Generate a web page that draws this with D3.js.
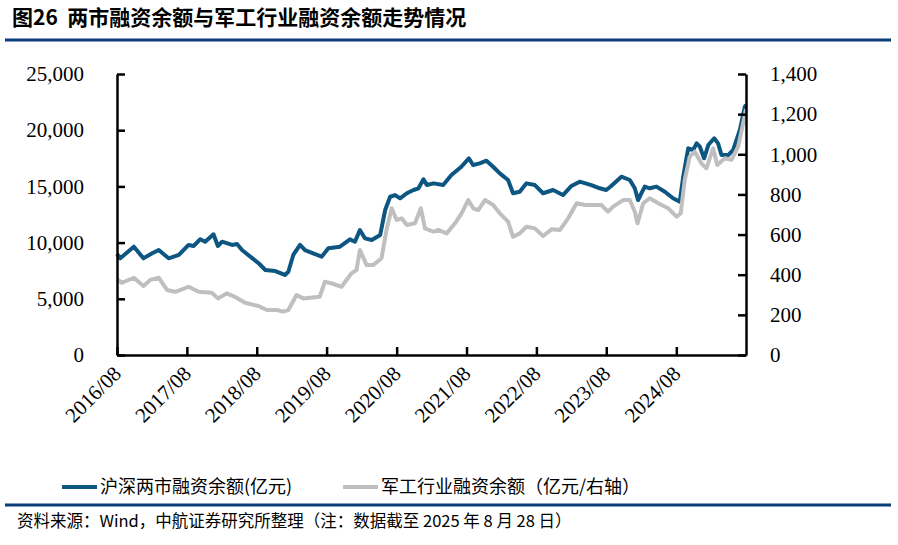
<!DOCTYPE html>
<html>
<head>
<meta charset="utf-8">
<title>两市融资余额与军工行业融资余额走势情况</title>
<style>
  body { margin: 0; background: #fff; }
  svg text { font-family: "Liberation Serif", serif; fill: #000; }
  svg .cjk { font-family: "Noto Sans CJK SC", sans-serif; white-space: pre; }
</style>
</head>
<body>
<svg id="chart" width="898" height="545"></svg>
<script src="https://cdn.jsdelivr.net/npm/d3@7/dist/d3.min.js"></script>
<script>
// 沪深两市融资余额 (亿元, left axis)
const marketDates = ["2016-08-29","2016-09-15","2016-11-25","2017-01-14","2017-03-01","2017-04-04","2017-05-26","2017-07-18",
  "2017-09-07","2017-10-04","2017-11-07","2017-12-03","2018-01-15","2018-02-07","2018-03-01","2018-04-22","2018-05-18",
  "2018-06-13","2018-09-08","2018-10-13","2018-12-04","2019-01-23","2019-02-10","2019-03-08","2019-04-12","2019-05-08",
  "2019-06-20","2019-08-03","2019-09-07","2019-11-07","2019-12-29","2020-01-24","2020-02-19","2020-03-16","2020-04-21",
  "2020-06-04","2020-06-30","2020-07-26","2020-08-21","2020-09-16","2020-10-21","2020-11-25","2020-12-21","2021-01-16",
  "2021-02-03","2021-03-10","2021-04-29","2021-06-11","2021-08-02","2021-09-10","2021-10-02","2021-11-06","2021-12-11",
  "2022-01-15","2022-02-19","2022-04-03","2022-04-29","2022-06-03","2022-07-08","2022-08-21","2022-10-03","2022-11-24",
  "2023-01-15","2023-02-28","2023-04-12","2023-06-12","2023-07-26","2023-08-29","2023-09-24","2023-11-16","2023-12-30",
  "2024-01-25","2024-02-11","2024-03-17","2024-04-12","2024-05-17","2024-06-30","2024-08-12","2024-09-16","2024-10-04",
  "2024-10-30","2024-11-25","2024-12-13","2024-12-30","2025-01-21","2025-02-12","2025-03-15","2025-04-04","2025-04-22",
  "2025-05-27","2025-06-22","2025-07-27","2025-08-22","2025-08-28"];
const marketValues = [9000,8600,9640,8600,9050,9340,8600,8900,
  9790,9700,10300,10080,10740,9700,10080,9790,9880,
  9340,8160,7560,7470,7120,7410,8900,9790,9340,
  9050,8750,9490,9640,10290,10080,11120,10380,10230,
  10680,12900,14080,14230,13940,14390,14680,14830,15630,
  15120,15270,15120,16010,16750,17500,16900,17050,17290,
  16750,16160,15570,14390,14530,15270,15120,14390,14680,
  14230,15040,15420,15120,14830,14680,15040,15860,15570,
  14830,13790,14980,14830,14980,14530,13940,13640,15860,
  18390,18240,18830,18530,17500,18680,19280,18830,17790,
  17790,18240,20020,22090,22250];

// 军工行业融资余额 (亿元, right axis)
const defenseDates = ["2016-08-29","2016-09-24","2016-11-25","2017-01-14","2017-02-19","2017-04-04","2017-05-17","2017-06-29",
  "2017-09-07","2017-10-29","2018-01-06","2018-02-07","2018-03-25","2018-05-07","2018-06-29","2018-09-07","2018-10-21",
  "2018-12-12","2019-01-14","2019-02-10","2019-03-25","2019-04-29","2019-07-24","2019-08-20","2019-09-24","2019-11-15",
  "2020-01-06","2020-02-01","2020-02-19","2020-03-25","2020-04-28","2020-06-11","2020-07-07","2020-08-03","2020-08-29",
  "2020-09-24","2020-10-21","2020-12-03","2021-01-02","2021-01-24","2021-03-10","2021-04-03","2021-05-17","2021-06-30",
  "2021-08-03","2021-09-07","2021-10-03","2021-10-29","2021-12-03","2022-01-15","2022-02-19","2022-04-03","2022-04-29",
  "2022-06-03","2022-07-08","2022-08-21","2022-10-03","2022-11-16","2022-12-30","2023-02-11","2023-03-27","2023-05-10",
  "2023-06-13","2023-08-04","2023-09-07","2023-10-04","2023-11-25","2023-12-30","2024-01-25","2024-02-08","2024-03-09",
  "2024-04-12","2024-05-26","2024-07-17","2024-08-30","2024-09-21","2024-10-12","2024-11-07","2024-12-03","2025-01-07",
  "2025-02-02","2025-03-09","2025-03-31","2025-05-09","2025-06-13","2025-07-18","2025-08-13","2025-08-28"];
const defenseValues = [377,360,385,344,374,385,324,315,
  340,315,310,282,307,290,260,244,224,
  224,216,224,299,282,290,365,357,340,
  407,423,523,448,448,482,623,731,673,
  681,648,656,731,631,614,623,606,656,
  706,772,731,722,772,747,706,664,589,
  606,639,631,593,626,623,681,756,747,
  747,747,714,739,772,772,714,656,756,
  781,756,731,689,706,872,988,1013,955,
  930,1030,947,980,972,1038,1154,1225];

const leftTicks = [0, 5000, 10000, 15000, 20000, 25000];
const rightTicks = [0, 200, 400, 600, 800, 1000, 1200, 1400];
const tickYears = [2016, 2017, 2018, 2019, 2020, 2021, 2022, 2023, 2024];

const legendLabels = ["沪深两市融资余额(亿元)", "军工行业融资余额（亿元/右轴）"];
const colors = ["#0d5682", "#bfbfbf"];

const parse = d3.timeParse("%Y-%m-%d");
const market = marketDates.map((d, i) => ({ date: parse(d), value: marketValues[i] }));
const defense = defenseDates.map((d, i) => ({ date: parse(d), value: defenseValues[i] }));

const svg = d3.select("#chart");
const plotLeft = 117, plotRight = 746, plotTop = 74, plotBottom = 355;

const x = d3.scaleTime()
    .domain([parse("2016-08-29"), parse("2025-08-28")])
    .range([plotLeft, plotRight]);
const yL = d3.scaleLinear().domain([0, 25000]).range([plotBottom, plotTop]);
const yR = d3.scaleLinear().domain([0, 1400]).range([plotBottom, plotTop]);

// title + rules
svg.append("text").attr("class", "cjk")
    .attr("x", 12).attr("y", 25)
    .style("font-size", "21px").style("font-weight", "bold")
    .text("图26  两市融资余额与军工行业融资余额走势情况");

svg.append("line").attr("x1", 5).attr("x2", 891).attr("y1", 40).attr("y2", 40)
    .attr("stroke", "#0b3d7c").attr("stroke-width", 3);
svg.append("line").attr("x1", 5).attr("x2", 891).attr("y1", 505).attr("y2", 505)
    .attr("stroke", "#0b3d7c").attr("stroke-width", 3);

// lines
const lineL = d3.line().x(d => x(d.date)).y(d => yL(d.value));
const lineR = d3.line().x(d => x(d.date)).y(d => yR(d.value));

svg.append("path").datum(market)
    .attr("d", lineL).attr("fill", "none")
    .attr("stroke", colors[0]).attr("stroke-width", 4)
    .attr("stroke-linejoin", "round");
svg.append("path").datum(defense)
    .attr("d", lineR).attr("fill", "none")
    .attr("stroke", colors[1]).attr("stroke-width", 4)
    .attr("stroke-linejoin", "round");

// axes
const gL = svg.append("g").attr("transform", `translate(${plotLeft},0)`)
    .call(d3.axisLeft(yL).tickValues(leftTicks).tickSizeInner(-8).tickSizeOuter(0)
        .tickPadding(33).tickFormat(d3.format(",")));
const gR = svg.append("g").attr("transform", `translate(${plotRight},0)`)
    .call(d3.axisRight(yR).tickValues(rightTicks).tickSizeInner(-8).tickSizeOuter(0)
        .tickPadding(24).tickFormat(d3.format(",")));
const gB = svg.append("g").attr("transform", `translate(0,${plotBottom})`)
    .call(d3.axisBottom(x).tickValues(tickYears.map(y => new Date(y, 7, 29)))
        .tickSizeInner(-8).tickSizeOuter(0).tickFormat(d3.timeFormat("%Y/%m")));

gB.selectAll(".tick text")
    .attr("text-anchor", "end")
    .attr("y", 0).attr("dy", "0")
    .attr("transform", "translate(5,20) rotate(-45)");

[gL, gR, gB].forEach(g => {
    g.selectAll("text").style("font-size", "21px").style("font-family", "'Liberation Serif', serif");
    g.selectAll("path, line").attr("stroke", "#000").attr("stroke-width", 2.5);
});

// legend
const legend = svg.append("g");
const legendX = [62, 343];
legendLabels.forEach((label, i) => {
    legend.append("line")
        .attr("x1", legendX[i]).attr("x2", legendX[i] + 35)
        .attr("y1", 487).attr("y2", 487)
        .attr("stroke", colors[i]).attr("stroke-width", 4);
    legend.append("text").attr("class", "cjk")
        .attr("x", legendX[i] + 38).attr("y", 493)
        .style("font-size", "18px")
        .text(label);
});

svg.append("text").attr("class", "cjk")
    .attr("x", 17).attr("y", 527)
    .style("font-size", "16.5px")
    .text("资料来源：Wind，中航证券研究所整理（注：数据截至 2025 年 8 月 28 日）");
</script>
</body>
</html>
